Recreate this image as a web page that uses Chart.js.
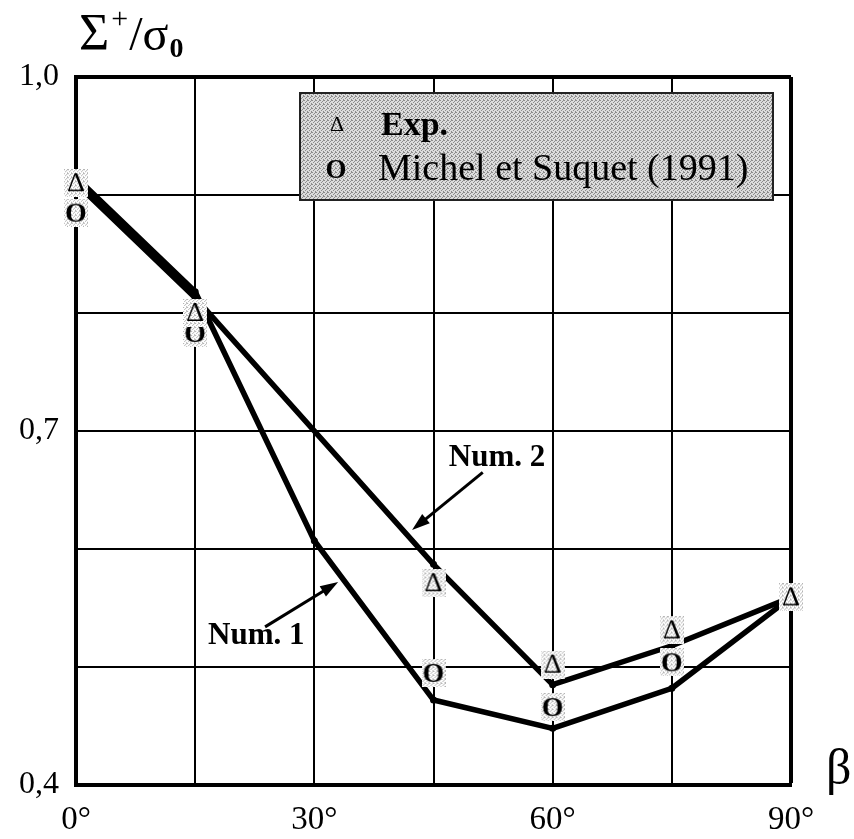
<!DOCTYPE html>
<html lang="fr">
<head>
<meta charset="UTF-8">
<title>Sigma+/sigma0 en fonction de beta</title>
<script src="https://cdn.jsdelivr.net/npm/chart.js"></script>
<style>
  body { margin: 0; background: #fff; }
  #wrap { width: 854px; height: 839px; }
</style>
</head>
<body>
<div id="wrap"><canvas id="chart" width="854" height="839"></canvas></div>
<script>
// values (beta in degrees, Sigma+/sigma0)
const betaNum1 = [0, 15, 30, 45, 60, 75, 90];
const num1Vals = [0.915, 0.818, 0.607, 0.472, 0.448, 0.482, 0.559];
const betaNum2 = [0, 15, 45, 60, 75, 90];
const num2Vals = [0.910, 0.813, 0.587, 0.485, 0.518, 0.559];
const betaExp = [0, 15, 45, 60, 75, 90];
const expVals = [0.910, 0.800, 0.571, 0.502, 0.531, 0.559];
const betaMS = [0, 15, 45, 60, 75];
const msVals = [0.885, 0.783, 0.495, 0.466, 0.504];

const xTickLabels = { 0: '0°', 30: '30°', 60: '60°', 90: '90°' };
const yTickLabels = { '1.0': '1,0', '0.7': '0,7', '0.4': '0,4' };

// callouts: text position and arrow (tail -> head), in data units
const callouts = [
  { text: 'Num. 2', tx: 53.0, ty: 0.677, x0: 51.2, y0: 0.665, x1: 42.3, y1: 0.616 },
  { text: 'Num. 1', tx: 22.7, ty: 0.526, x0: 23.8, y0: 0.534, x1: 33.0, y1: 0.572 }
];

const SERIF = '"Liberation Serif", "DejaVu Serif", serif';

function pts(xs, ys) {
  return xs.map((x, i) => ({ x: x, y: ys[i] }));
}

function stipplePattern(ctx, base, dot) {
  const p = document.createElement('canvas');
  p.width = 4; p.height = 4;
  const g = p.getContext('2d');
  g.fillStyle = base;
  g.fillRect(0, 0, 4, 4);
  g.fillStyle = dot;
  [[0, 0], [2, 1], [1, 2], [3, 3], [3, 0]].forEach(([a, b]) => g.fillRect(a, b, 1, 1));
  return ctx.createPattern(p, 'repeat');
}

function glyphMarker(ch, font, w, h, dy) {
  const c = document.createElement('canvas');
  c.width = w; c.height = h;
  const g = c.getContext('2d');
  g.fillStyle = stipplePattern(g, '#ffffff', '#b5b5b5');
  g.fillRect(0, 0, w, h);
  g.fillStyle = '#000';
  g.font = font;
  g.textAlign = 'center';
  g.textBaseline = 'middle';
  g.fillText(ch, w / 2, h / 2 + dy);
  return c;
}

const triMarker = glyphMarker('Δ', '28px ' + SERIF, 24, 28, 1);
const circMarker = glyphMarker('O', 'bold 28px ' + SERIF, 24, 28, 2);

const overlay = {
  id: 'overlay',
  afterDatasetsDraw(chart) {
    const ctx = chart.ctx;
    const xs = chart.scales.x, ys = chart.scales.y;
    ctx.save();

    // callouts with arrows
    callouts.forEach(c => {
      ctx.font = 'bold 31px ' + SERIF;
      ctx.fillStyle = '#000';
      ctx.textAlign = 'center';
      ctx.textBaseline = 'middle';
      ctx.fillText(c.text, xs.getPixelForValue(c.tx), ys.getPixelForValue(c.ty));
      const ax = xs.getPixelForValue(c.x0), ay = ys.getPixelForValue(c.y0);
      const bx = xs.getPixelForValue(c.x1), by = ys.getPixelForValue(c.y1);
      const ang = Math.atan2(by - ay, bx - ax);
      ctx.strokeStyle = '#000';
      ctx.lineWidth = 3;
      ctx.beginPath();
      ctx.moveTo(ax, ay);
      ctx.lineTo(bx - 10 * Math.cos(ang), by - 10 * Math.sin(ang));
      ctx.stroke();
      ctx.beginPath();
      ctx.moveTo(bx, by);
      ctx.lineTo(bx - 18 * Math.cos(ang) + 6 * Math.sin(ang), by - 18 * Math.sin(ang) - 6 * Math.cos(ang));
      ctx.lineTo(bx - 18 * Math.cos(ang) - 6 * Math.sin(ang), by - 18 * Math.sin(ang) + 6 * Math.cos(ang));
      ctx.closePath();
      ctx.fill();
    });

    // legend box
    const lx = 300, ly = 93, lw = 473, lh = 107;
    ctx.fillStyle = stipplePattern(ctx, '#dcdcdc', '#8c8c8c');
    ctx.fillRect(lx, ly, lw, lh);
    ctx.strokeStyle = '#222';
    ctx.lineWidth = 2;
    ctx.strokeRect(lx, ly, lw, lh);
    ctx.fillStyle = '#000';
    ctx.textAlign = 'center';
    ctx.textBaseline = 'alphabetic';
    ctx.font = '22px ' + SERIF;
    ctx.fillText('Δ', 337, 131);
    ctx.font = 'bold 27px ' + SERIF;
    ctx.fillText('O', 336, 178);
    ctx.textAlign = 'left';
    ctx.font = 'bold 34px ' + SERIF;
    ctx.fillText(chart.data.datasets[2].label, 381, 135);
    ctx.font = '38px ' + SERIF;
    ctx.fillText(chart.data.datasets[3].label, 378, 180);

    // axis titles
    let x = 79;
    ctx.textAlign = 'left';
    ctx.font = '52px ' + SERIF;
    ctx.fillText('Σ', x, 50);
    x += ctx.measureText('Σ').width + 2;
    ctx.font = '30px ' + SERIF;
    ctx.fillText('+', x, 28);
    x += ctx.measureText('+').width + 1;
    ctx.font = '48px ' + SERIF;
    ctx.fillText('/σ', x, 50);
    x += ctx.measureText('/σ').width + 1;
    ctx.font = 'bold 28px ' + SERIF;
    ctx.fillText('0', x, 57);
    ctx.font = '50px ' + SERIF;
    ctx.fillText('β', 826, 784);
    ctx.restore();
  }
};

const lineStyle = {
  type: 'line',
  borderColor: '#000',
  borderWidth: 5.5,
  pointRadius: 3.5,
  pointBackgroundColor: '#000',
  pointBorderWidth: 0,
  tension: 0,
  fill: false,
  clip: false,
  order: 2
};

new Chart(document.getElementById('chart'), {
  type: 'scatter',
  data: {
    datasets: [
      Object.assign({ label: 'Num. 1', data: pts(betaNum1, num1Vals) }, lineStyle, { showLine: true }),
      Object.assign({ label: 'Num. 2', data: pts(betaNum2, num2Vals) }, lineStyle, { showLine: true }),
      { label: 'Exp.', data: pts(betaExp, expVals), pointStyle: triMarker, clip: false, order: 1 },
      { label: 'Michel et Suquet (1991)', data: pts(betaMS, msVals), pointStyle: circMarker, clip: false, order: 1 }
    ]
  },
  options: {
    responsive: false,
    animation: false,
    devicePixelRatio: 1,
    layout: { padding: { top: 77, right: 63, left: 0, bottom: 0 } },
    plugins: { legend: { display: false }, tooltip: { enabled: false } },
    scales: {
      x: {
        type: 'linear',
        min: 0, max: 90,
        ticks: {
          stepSize: 15,
          autoSkip: false,
          maxRotation: 0,
          padding: 16,
          color: '#000',
          font: { family: SERIF, size: 33 },
          callback: v => xTickLabels[v] ?? ''
        },
        grid: {
          color: '#000',
          drawTicks: false,
          lineWidth: c => (c.tick && c.tick.value === 90 ? 4 : 2)
        },
        border: { display: true, color: '#000', width: 4 },
        afterFit: s => { s.height = 54; }
      },
      y: {
        min: 0.4, max: 1.0,
        ticks: {
          stepSize: 0.1,
          padding: 17,
          color: '#000',
          font: { family: SERIF, size: 32 },
          callback: v => yTickLabels[Number(v).toFixed(1)] ?? ''
        },
        grid: {
          color: '#000',
          drawTicks: false,
          lineWidth: c => (c.tick && c.tick.value > 0.99 ? 4 : 2)
        },
        border: { display: true, color: '#000', width: 4 },
        afterFit: s => { s.width = 76; }
      }
    }
  },
  plugins: [overlay]
});
</script>
</body>
</html>
